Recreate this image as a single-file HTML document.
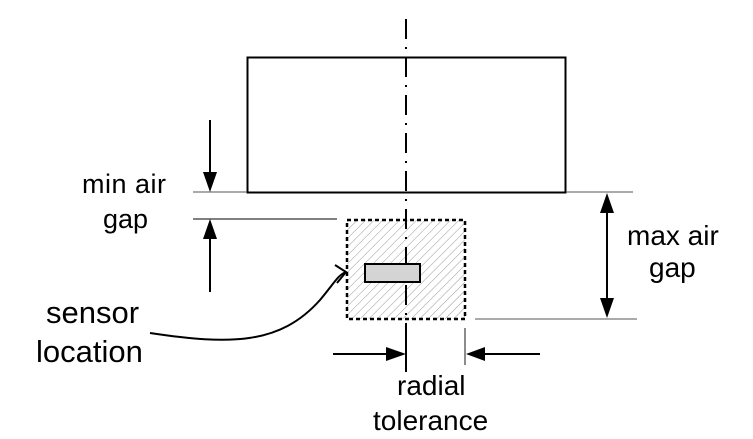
<!DOCTYPE html>
<html><head><style>
html,body{margin:0;padding:0;background:#fff;}
svg{display:block;}
text{font-family:"Liberation Sans",Arial,sans-serif;fill:#000;}
</style></head><body>
<svg width="753" height="439" viewBox="0 0 753 439" xmlns="http://www.w3.org/2000/svg">
<defs>
<pattern id="h" width="6" height="6" patternUnits="userSpaceOnUse" patternTransform="rotate(45)">
<line x1="0" y1="0" x2="0" y2="6" stroke="#999" stroke-width="1"/>
</pattern>
</defs>
<rect x="247.5" y="57.5" width="318" height="135" fill="#fff" stroke="#000" stroke-width="2"/>
<rect x="347" y="220" width="118" height="99" fill="url(#h)" stroke="#000" stroke-width="2.5" stroke-dasharray="4,3"/>
<line x1="406" y1="19" x2="406" y2="372" stroke="#000" stroke-width="2" stroke-dasharray="20,8,2,8"/>
<rect x="365" y="264" width="55" height="18" fill="#d4d4d4" stroke="#000" stroke-width="2"/>
<!-- min air gap -->
<line x1="193" y1="192" x2="247" y2="192" stroke="#555" stroke-width="1"/>
<line x1="193" y1="219" x2="337" y2="219" stroke="#000" stroke-width="1"/>
<line x1="210" y1="120" x2="210" y2="175" stroke="#000" stroke-width="2"/>
<path d="M203,172 L217,172 L210,192 z" fill="#000"/>
<line x1="210" y1="236" x2="210" y2="292" stroke="#000" stroke-width="2"/>
<path d="M203,239 L217,239 L210,219 z" fill="#000"/>
<text x="82" y="193" font-size="27" letter-spacing="0.5">min air</text>
<text x="103" y="228" font-size="27">gap</text>
<!-- max air gap -->
<line x1="566" y1="192" x2="633" y2="192" stroke="#555" stroke-width="1"/>
<line x1="475" y1="319" x2="637" y2="319" stroke="#555" stroke-width="1"/>
<line x1="607" y1="205" x2="607" y2="305" stroke="#000" stroke-width="2"/>
<path d="M600,213 L614,213 L607,193 z" fill="#000"/>
<path d="M600,298 L614,298 L607,318 z" fill="#000"/>
<text x="627" y="245" font-size="28">max air</text>
<text x="649" y="277" font-size="28">gap</text>
<!-- sensor location -->
<path d="M150,333 C230,345 280,345 320,300 C335,282 338,275 346,272" fill="none" stroke="#000" stroke-width="2"/>
<path d="M335,265 L346,272 L337,283" fill="none" stroke="#000" stroke-width="2"/>
<text x="46" y="323" font-size="31">sensor</text>
<text x="36" y="362" font-size="31">location</text>
<!-- radial tolerance -->
<line x1="465" y1="328" x2="465" y2="365" stroke="#666" stroke-width="1.5"/>
<line x1="406" y1="340" x2="406" y2="365" stroke="#000" stroke-width="2"/>
<line x1="333" y1="354" x2="390" y2="354" stroke="#000" stroke-width="2"/>
<path d="M386,347 L386,361 L406,354 z" fill="#000"/>
<line x1="480" y1="354" x2="540" y2="354" stroke="#000" stroke-width="2"/>
<path d="M485,347 L485,361 L466,354 z" fill="#000"/>
<text x="397" y="395" font-size="28">radial</text>
<text x="373" y="430" font-size="28">tolerance</text>
</svg>
</body></html>
